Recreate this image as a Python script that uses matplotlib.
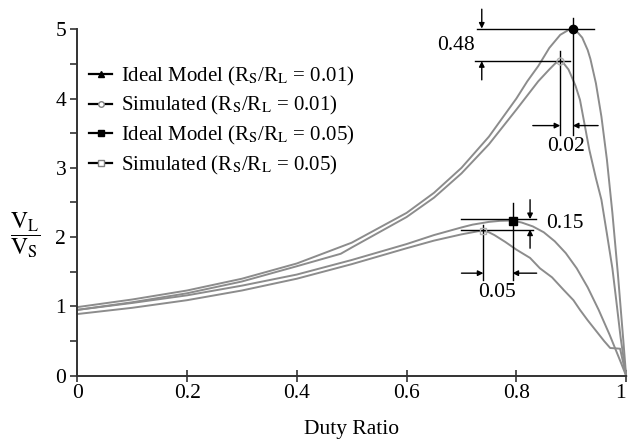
import numpy as np
import matplotlib
matplotlib.use("Agg")
from matplotlib import pyplot as plt
from matplotlib.lines import Line2D

plt.rcParams['font.family'] = ['Liberation Serif', 'DejaVu Serif']
plt.rcParams['mathtext.fontset'] = 'stix'

# Ideal model, Rs/RL = 0.01
ideal1_d = [0, 0.1, 0.2, 0.3, 0.4, 0.5, 0.6, 0.65, 0.7, 0.75, 0.8, 0.82, 0.84, 0.86, 0.88,
            0.895, 0.903, 0.91, 0.92, 0.93, 0.935, 0.945, 0.955, 0.965, 0.975, 0.985, 0.995, 1.0]
ideal1_v = [0.99, 1.10, 1.23, 1.40, 1.62, 1.92, 2.35, 2.64, 3.00, 3.45, 4.00, 4.25, 4.47, 4.73, 4.92,
            4.99, 5.00, 4.97, 4.88, 4.70, 4.57, 4.22, 3.74, 3.12, 2.35, 1.47, 0.50, 0.0]

# Simulated, Rs/RL = 0.01
sim1_d = [0, 0.1, 0.2, 0.3, 0.4, 0.48, 0.5, 0.6, 0.65, 0.7, 0.75, 0.8, 0.84, 0.86, 0.87,
          0.875, 0.88, 0.885, 0.89, 0.895, 0.9, 0.908, 0.916, 0.933, 0.945, 0.955, 0.965,
          0.975, 0.982, 0.99, 1.0]
sim1_v = [0.95, 1.06, 1.19, 1.36, 1.58, 1.76, 1.85, 2.29, 2.57, 2.92, 3.34, 3.84, 4.25, 4.42, 4.50,
          4.53, 4.54, 4.52, 4.47, 4.42, 4.33, 4.18, 3.98, 3.26, 2.85, 2.54, 2.05,
          1.55, 1.09, 0.55, 0.0]

# Ideal model, Rs/RL = 0.05
ideal5_d = [0, 0.1, 0.2, 0.3, 0.4, 0.5, 0.6, 0.65, 0.7, 0.72, 0.75, 0.77, 0.793, 0.81, 0.83,
            0.85, 0.87, 0.89, 0.91, 0.93, 0.95, 0.97, 0.99, 1.0]
ideal5_v = [0.95, 1.05, 1.16, 1.30, 1.46, 1.67, 1.90, 2.03, 2.14, 2.18, 2.22, 2.235, 2.24, 2.21, 2.155,
            2.07, 1.94, 1.77, 1.55, 1.275, 0.95, 0.59, 0.20, 0.0]

# Simulated, Rs/RL = 0.05
sim5_d = [0, 0.1, 0.2, 0.3, 0.4, 0.5, 0.6, 0.65, 0.7, 0.72, 0.73, 0.74, 0.75, 0.76, 0.78, 0.8,
          0.825, 0.843, 0.865, 0.886, 0.904, 0.916, 0.93, 0.946, 0.96, 0.971, 0.989, 1.0]
sim5_v = [0.89, 0.98, 1.09, 1.23, 1.40, 1.61, 1.84, 1.95, 2.04, 2.07, 2.085, 2.09, 2.07, 2.03, 1.93, 1.82,
          1.70, 1.55, 1.42, 1.24, 1.09, 0.95, 0.80, 0.64, 0.50, 0.40, 0.39, 0.0]

labels = ['Ideal Model (R$_{\\rm S}$/R$_{\\rm L}$ = 0.01)',
          'Simulated (R$_{\\rm S}$/R$_{\\rm L}$ = 0.01)',
          'Ideal Model (R$_{\\rm S}$/R$_{\\rm L}$ = 0.05)',
          'Simulated (R$_{\\rm S}$/R$_{\\rm L}$ = 0.05)']

fig = plt.figure(figsize=(6.29, 4.43), dpi=100)
ax = fig.add_axes([0.1229, 0.1519, 0.8725, 0.782])

curve_color = '#8c8c8c'
for d, v in [(ideal1_d, ideal1_v), (sim1_d, sim1_v), (ideal5_d, ideal5_v), (sim5_d, sim5_v)]:
    ax.plot(d, v, color=curve_color, lw=1.4, clip_on=False, zorder=2)

# Peak markers
ax.plot(0.903, 5.0, 'o', color='k', ms=6, zorder=5, clip_on=False)
ax.plot(0.880, 4.54, 'o', mfc='none', mec='#b0b0b0', ms=5, zorder=5)
ax.plot(0.793, 2.24, 's', color='k', ms=6, zorder=5)
ax.plot(0.740, 2.09, 's', mfc='none', mec='#b0b0b0', ms=5, zorder=5)

line_kw = dict(color='k', lw=1.0, zorder=4)
arrow_kw = dict(arrowstyle='-|>', color='k', lw=1.0, mutation_scale=8, shrinkA=0, shrinkB=0)

# Dimension lines for Rs/RL = 0.01 peak
ax.plot([0.728, 0.942], [5.0, 5.0], clip_on=False, **line_kw)
ax.plot([0.725, 0.898], [4.54, 4.54], **line_kw)
ax.annotate('', xy=(0.737, 5.01), xytext=(0.737, 5.29), arrowprops=arrow_kw, annotation_clip=False)
ax.annotate('', xy=(0.737, 4.54), xytext=(0.737, 4.27), arrowprops=arrow_kw)
ax.text(0.690, 4.77, '0.48', fontsize=15.5, ha='center', va='center')
ax.plot([0.880, 0.880], [4.68, 3.47], **line_kw)
ax.plot([0.903, 0.903], [5.17, 3.47], clip_on=False, **line_kw)
ax.annotate('', xy=(0.880, 3.61), xytext=(0.830, 3.61), arrowprops=arrow_kw)
ax.annotate('', xy=(0.903, 3.61), xytext=(0.949, 3.61), arrowprops=arrow_kw)
ax.text(0.891, 3.31, '0.02', fontsize=15.5, ha='center', va='center')

# Dimension lines for Rs/RL = 0.05 peak
ax.plot([0.70, 0.835], [2.26, 2.26], **line_kw)
ax.plot([0.70, 0.83], [2.11, 2.11], **line_kw)
ax.annotate('', xy=(0.825, 2.26), xytext=(0.825, 2.54), arrowprops=arrow_kw)
ax.annotate('', xy=(0.825, 2.11), xytext=(0.825, 1.84), arrowprops=arrow_kw)
ax.text(0.854, 2.19, '0.15', fontsize=15.5, ha='left', va='center')
ax.plot([0.740, 0.740], [2.18, 1.38], **line_kw)
ax.plot([0.793, 0.793], [2.49, 1.38], **line_kw)
ax.annotate('', xy=(0.740, 1.48), xytext=(0.700, 1.48), arrowprops=arrow_kw)
ax.annotate('', xy=(0.793, 1.48), xytext=(0.837, 1.48), arrowprops=arrow_kw)
ax.text(0.765, 1.20, '0.05', fontsize=15.5, ha='center', va='center')

# Legend
handles = [Line2D([], [], color='k', lw=1.6, marker='^', ms=4, mfc='k'),
           Line2D([], [], color='k', lw=1.6, marker='o', ms=4, mfc='white', mec='#808080'),
           Line2D([], [], color='k', lw=1.6, marker='s', ms=4, mfc='k'),
           Line2D([], [], color='k', lw=1.6, marker='s', ms=4, mfc='white', mec='#808080')]
ax.legend(handles, labels, loc='upper left', bbox_to_anchor=(-0.005, 0.94), frameon=False,
          fontsize=15, handlelength=1.1, handletextpad=0.45, labelspacing=0.32, borderaxespad=0.3)

# Axes styling
ax.set_xlim(0, 1)
ax.set_ylim(0, 5)
ax.set_xticks([0, 0.2, 0.4, 0.6, 0.8, 1.0])
ax.set_xticklabels(['0', '0.2', '0.4', '0.6', '0.8', '1'])
ax.get_xticklabels()[-1].set_horizontalalignment('right')
ax.set_yticks([0, 1, 2, 3, 4, 5])
ax.set_yticks(np.arange(0.5, 5, 1.0), minor=True)
ax.tick_params(axis='x', direction='inout', length=8, width=1.2, labelsize=15.5, pad=2, colors='#333333', labelcolor='k')
ax.tick_params(axis='y', which='both', direction='out', length=5, width=1.2, labelsize=15.5, pad=3, colors='#333333', labelcolor='k')
for side in ['top', 'right']:
    ax.spines[side].set_visible(False)
for side in ['left', 'bottom']:
    ax.spines[side].set_linewidth(1.4)
    ax.spines[side].set_color('#333333')

ax.set_xlabel('Duty Ratio', fontsize=15.5, labelpad=12)
fig.text(0.04, 0.47, '$\\dfrac{\\mathrm{V_L}}{\\mathrm{V_S}}$', fontsize=17, ha='center', va='center')

plt.savefig('out.png', dpi=100)
